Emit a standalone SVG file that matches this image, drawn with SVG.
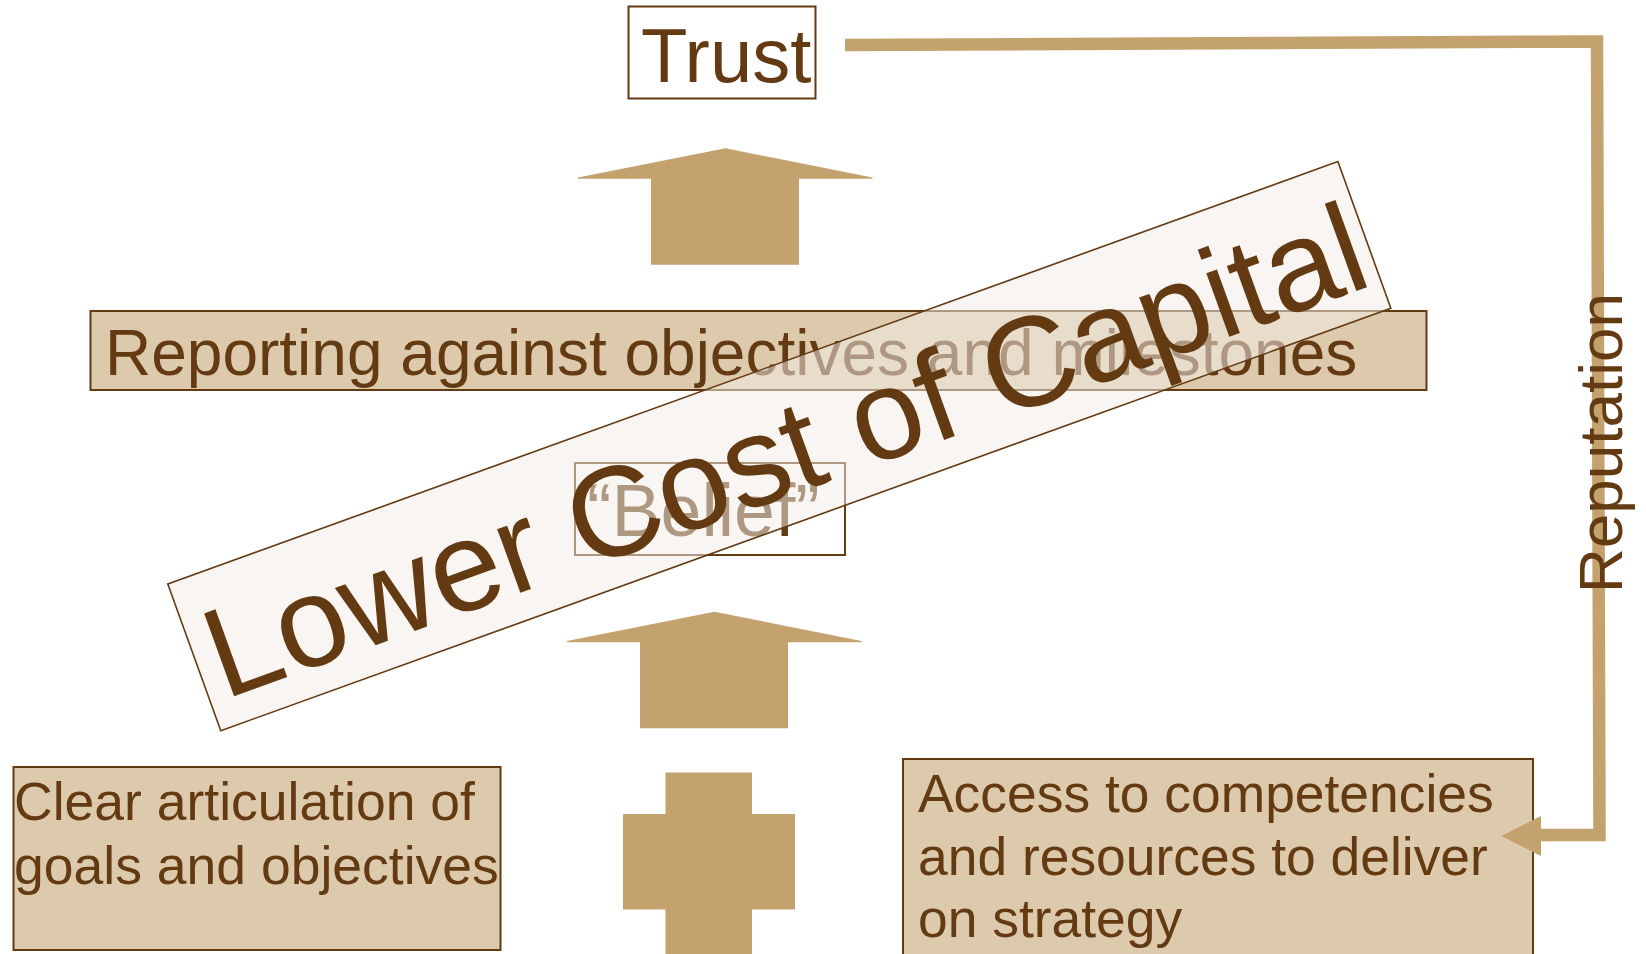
<svg xmlns="http://www.w3.org/2000/svg" width="1646" height="954" viewBox="0 0 1646 954">
  <style>
    .txt { font-family: "Liberation Sans", Arial, sans-serif; fill: #633a12; }
    .box { fill: #ddcaad; stroke: #633a12; stroke-width: 2; }
    .plain { fill: #ffffff; stroke: #633a12; stroke-width: 2; }
    .tan { fill: #c4a26e; }
    .link { fill: none; stroke: #c4a26e; stroke-width: 12.5; stroke-linejoin: miter; }
  </style>
  <defs>
    <!-- block arrow pointing up, origin at the tip -->
    <path id="up-arrow" d="M0,0 L147,29.3 L147,30.5 L73.5,30.5 L73.5,116.5 L-74.5,116.5 L-74.5,30.5 L-147.5,30.5 L-147.5,29.3 Z"/>
  </defs>
  <rect width="1646" height="954" fill="#ffffff"/>

  <g id="trust">
    <rect class="plain" x="628.5" y="6.5" width="187" height="92"/>
    <text class="txt" x="641" y="82" font-size="76">Trust</text>
  </g>

  <g id="arrow-top">
    <use href="#up-arrow" class="tan" transform="translate(725.5,148.3)"/>
  </g>

  <g id="reporting">
    <rect class="box" x="90.5" y="311" width="1336" height="79"/>
    <text class="txt" x="105" y="375" font-size="64">Reporting against objectives and milestones</text>
  </g>

  <g id="belief">
    <rect class="plain" x="575" y="463" width="270" height="92" stroke-width="1.5"/>
    <text class="txt" x="587" y="536" font-size="73.5">“Belief”</text>
  </g>

  <g id="arrow-bottom">
    <use href="#up-arrow" class="tan" transform="translate(714.5,611.7)"/>
  </g>

  <g id="plus">
    <path class="tan" d="M665.5,772.5 H752 V814 H795 V909.5 H752 V954 H665.5 V909.5 H623 V814 H665.5 Z"/>
  </g>

  <g id="goals">
    <rect class="box" x="13.5" y="767" width="487" height="183"/>
    <text class="txt" font-size="53.5">
      <tspan x="14" y="820">Clear articulation of</tspan>
      <tspan x="14" y="884">goals and objectives</tspan>
    </text>
  </g>

  <g id="access">
    <rect class="box" x="903" y="759" width="630" height="196"/>
    <text class="txt" font-size="53.4">
      <tspan x="918" y="812">Access to competencies</tspan>
      <tspan x="918" y="875">and resources to deliver</tspan>
      <tspan x="918" y="937">on strategy</tspan>
    </text>
  </g>

  <g id="connectors">
    <path class="link" d="M845,45 L1597,41.5 L1599.5,835 L1540,835"/>
    <polygon class="tan" points="1501.5,836 1541,816 1541,856"/>
  </g>

  <g id="reputation">
    <text class="txt" font-size="62" text-anchor="middle" transform="translate(1622,443) rotate(-90)">Reputation</text>
  </g>

  <g id="lower-cost-of-capital" transform="translate(167.8,584) rotate(-19.85)">
    <rect x="0" y="0" width="1244" height="156" fill="#f2ece7" fill-opacity="0.53" stroke="#633a12" stroke-width="1.6"/>
    <text class="txt" x="13.7" y="128" font-size="128">Lower Cost of Capital</text>
  </g>
</svg>
